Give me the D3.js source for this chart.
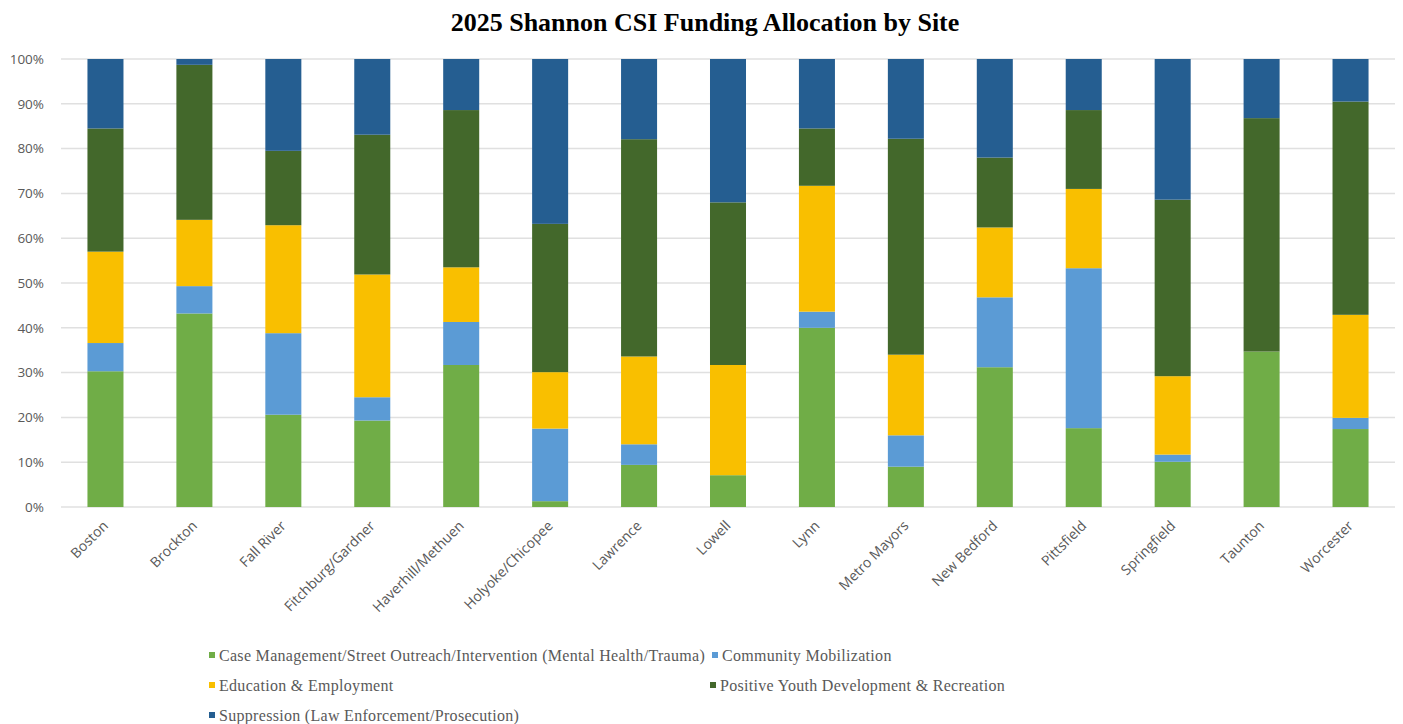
<!DOCTYPE html>
<html lang="en">
<head>
    <meta charset="UTF-8">
    <title>2025 Shannon CSI Funding Allocation by Site</title>
    <script src="https://d3js.org/d3.v7.min.js"></script>
    <style>
        html, body { margin: 0; padding: 0; background: #ffffff; overflow: hidden; }
        svg { display: block; }
        .title { font-family: "Liberation Serif", "Times New Roman", serif; font-weight: bold; font-size: 26px; fill: #000; }
        .axis text { font-family: "Open Sans", sans-serif; fill: #595959; }
        .legend text { font-family: "Liberation Serif", "Times New Roman", serif; font-size: 16px; letter-spacing: 0.3px; fill: #595959; }
    </style>
</head>
<body>
<div id="chart"></div>
<script>
    const sites = ["Boston", "Brockton", "Fall River", "Fitchburg/Gardner", "Haverhill/Methuen",
        "Holyoke/Chicopee", "Lawrence", "Lowell", "Lynn", "Metro Mayors", "New Bedford",
        "Pittsfield", "Springfield", "Taunton", "Worcester"];

    const categories = [
        "Case Management/Street Outreach/Intervention (Mental Health/Trauma)",
        "Community Mobilization",
        "Education & Employment",
        "Positive Youth Development & Recreation",
        "Suppression (Law Enforcement/Prosecution)"
    ];

    // percentage share of each site's funding, per category
    const caseManagement = [30.3, 43.2, 20.6, 19.3, 31.7, 1.3, 9.4, 7.1, 40.0, 9.0, 31.2, 17.6, 10.1, 34.7, 17.4];
    const communityMobilization = [6.3, 6.1, 18.2, 5.2, 9.6, 16.2, 4.6, 0.0, 3.6, 7.0, 15.6, 35.7, 1.6, 0.0, 2.5];
    const educationEmployment = [20.4, 14.8, 24.1, 27.4, 12.2, 12.6, 19.6, 24.6, 28.1, 18.0, 15.6, 17.7, 17.5, 0.0, 23.0];
    const youthDevelopment = [27.5, 34.6, 16.6, 31.2, 35.1, 33.1, 48.5, 36.3, 12.8, 48.2, 15.6, 17.6, 39.4, 52.1, 47.6];
    const suppression = [15.5, 1.3, 20.5, 16.9, 11.4, 36.8, 17.9, 32.0, 15.5, 17.8, 22.0, 11.4, 31.4, 13.2, 9.5];

    const yTicks = [0, 10, 20, 30, 40, 50, 60, 70, 80, 90, 100];

    const colors = ["#70ad47", "#5b9bd5", "#f9bf00", "#43682b", "#255e91"];

    const seriesValues = [caseManagement, communityMobilization, educationEmployment, youthDevelopment, suppression];
    const keys = categories;
    const rows = sites.map((site, i) => {
        const row = { site: site };
        keys.forEach((k, j) => { row[k] = seriesValues[j][i]; });
        return row;
    });

    const width = 1403;
    const height = 724;
    const margin = { top: 59, right: 8, bottom: 217, left: 61 };
    const innerWidth = width - margin.left - margin.right;
    const innerHeight = height - margin.top - margin.bottom;

    const svg = d3.select("#chart")
        .append("svg")
        .attr("width", width)
        .attr("height", height);

    svg.append("text")
        .attr("class", "title")
        .attr("x", 705)
        .attr("y", 31)
        .attr("text-anchor", "middle")
        .text("2025 Shannon CSI Funding Allocation by Site");

    const g = svg.append("g")
        .attr("transform", `translate(${margin.left}, ${margin.top})`);

    const xScale = d3.scaleBand()
        .domain(sites)
        .range([0, innerWidth])
        .paddingInner(0.595)
        .paddingOuter(0.2975);

    const yScale = d3.scaleLinear()
        .domain([0, 100])
        .range([innerHeight, 0]);

    // gridlines
    g.append("g")
        .selectAll("line")
        .data(yTicks)
        .join("line")
        .attr("x1", 0)
        .attr("x2", innerWidth)
        .attr("y1", d => yScale(d))
        .attr("y2", d => yScale(d))
        .attr("stroke", "#e0e0e0")
        .attr("stroke-width", 1.5);

    const stack = d3.stack().keys(keys);
    const stacked = stack(rows);

    g.append("g")
        .selectAll("g")
        .data(stacked)
        .join("g")
        .attr("fill", (d, i) => colors[i])
        .selectAll("rect")
        .data(d => d)
        .join("rect")
        .attr("x", d => xScale(d.data.site))
        .attr("y", d => yScale(d[1]))
        .attr("height", d => yScale(d[0]) - yScale(d[1]))
        .attr("width", xScale.bandwidth());

    // y axis
    const yAxis = g.append("g")
        .attr("class", "axis")
        .call(d3.axisLeft(yScale).tickValues(yTicks).tickFormat(d => d + "%").tickSize(0).tickPadding(17));
    yAxis.select(".domain").remove();
    yAxis.selectAll("text").attr("font-size", 13.5);

    // x axis labels
    const xAxis = g.append("g")
        .attr("class", "axis")
        .attr("transform", `translate(0, ${innerHeight})`)
        .call(d3.axisBottom(xScale).tickSize(0));
    xAxis.select(".domain").remove();
    xAxis.selectAll("text")
        .attr("font-size", 14)
        .attr("text-anchor", "end")
        .attr("dy", "0.35em")
        .attr("transform", "translate(-2, 14) rotate(-45)");

    // legend
    const legendItems = [
        { x: 209, y: 655 }, { x: 712, y: 655 },
        { x: 209, y: 685 }, { x: 710, y: 685 },
        { x: 209, y: 715 }
    ];
    const legend = svg.append("g").attr("class", "legend");
    const item = legend.selectAll("g")
        .data(categories)
        .join("g")
        .attr("transform", (d, i) => `translate(${legendItems[i].x}, ${legendItems[i].y})`);
    item.append("rect")
        .attr("x", 0)
        .attr("y", -3)
        .attr("width", 6)
        .attr("height", 6)
        .attr("fill", (d, i) => colors[i]);
    item.append("text")
        .attr("x", 10)
        .attr("dy", "0.35em")
        .text(d => d);
</script>
</body>
</html>
